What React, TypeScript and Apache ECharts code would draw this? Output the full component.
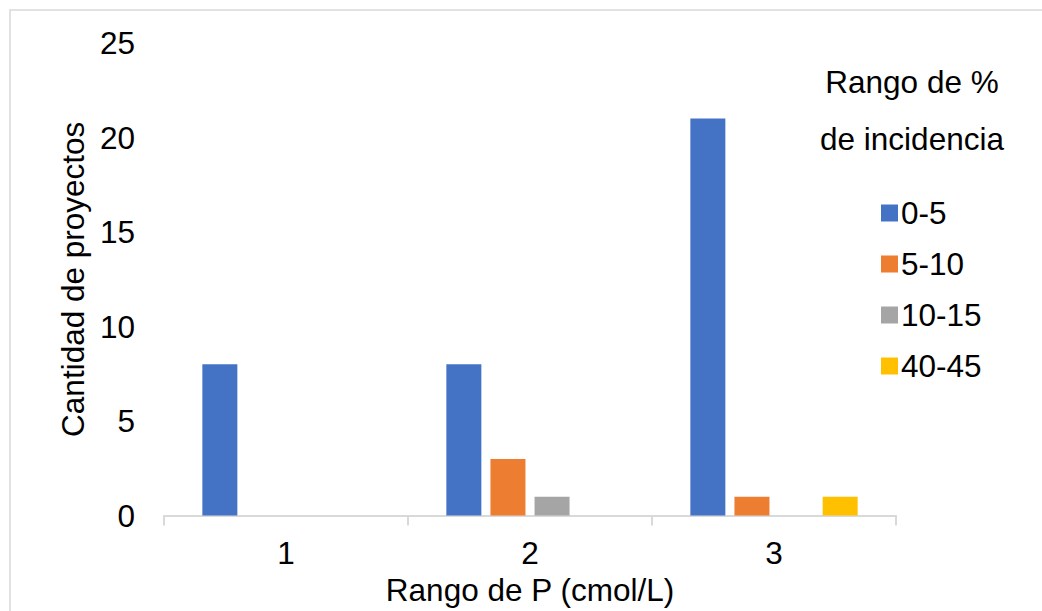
import React, { useEffect, useRef } from "react";
import * as echarts from "echarts";

const categories = ["1", "2", "3"];
const seriesNames = ["0-5", "5-10", "10-15", "40-45"];
const values0to5 = [8, 8, 21];
const values5to10 = [0, 3, 1];
const values10to15 = [0, 1, 0];
const values40to45 = [0, 0, 1];
const colors = ["#4472C4", "#ED7D31", "#A5A5A5", "#FFC000"];
const yTicks = [0, 5, 10, 15, 20, 25];

const FONT = "Liberation Sans, Arial, sans-serif";
const FS = 31.5;

export default function App() {
  const ref = useRef<HTMLDivElement>(null);
  useEffect(() => {
    if (!ref.current) return;
    const chart = echarts.init(ref.current, null, { renderer: "svg" });
    const data = [values0to5, values5to10, values10to15, values40to45];
    chart.setOption({
      animation: false,
      backgroundColor: "#ffffff",
      textStyle: { fontFamily: FONT },
      grid: { left: 164, right: 146, top: 43, bottom: 91.5 },
      legend: {
        orient: "vertical",
        left: 876,
        top: 190.5,
        itemWidth: 17,
        itemHeight: 17,
        itemGap: 16,
        icon: "rect",
        data: seriesNames,
        textStyle: { fontSize: FS, color: "#000", fontFamily: FONT, lineHeight: 35, padding: [0, 0, 0, -2] },
      },
      graphic: [
        {
          type: "rect",
          shape: { x: 10, y: 10, width: 1100, height: 700 },
          style: { fill: "none", stroke: "#d9d9d9", lineWidth: 1.5 },
          silent: true,
        },
        {
          type: "text",
          x: 912,
          y: 81.5,
          style: { text: "Rango de %", fontSize: FS, fontFamily: FONT, fill: "#000", align: "center", verticalAlign: "middle" },
        },
        {
          type: "text",
          x: 912,
          y: 138.5,
          style: { text: "de incidencia", fontSize: FS, fontFamily: FONT, fill: "#000", align: "center", verticalAlign: "middle" },
        },
      ],
      xAxis: {
        type: "category",
        data: categories,
        name: "Rango de P (cmol/L)",
        nameLocation: "middle",
        nameGap: 57.5,
        nameTextStyle: { fontSize: FS, color: "#000", fontFamily: FONT },
        axisLine: { lineStyle: { color: "#d9d9d9", width: 2 } },
        axisTick: { show: true, length: 10, lineStyle: { color: "#d9d9d9", width: 2 } },
        axisLabel: { fontSize: FS, color: "#000", margin: 21.5, fontFamily: FONT },
      },
      yAxis: {
        type: "value",
        min: yTicks[0],
        max: yTicks[yTicks.length - 1],
        interval: 5,
        name: "Cantidad de proyectos",
        nameLocation: "middle",
        nameGap: 68,
        nameTextStyle: { fontSize: FS, color: "#000", fontFamily: FONT },
        axisLine: { show: false },
        axisTick: { show: false },
        splitLine: { show: false },
        axisLabel: { fontSize: FS, color: "#000", margin: 29, fontFamily: FONT },
      },
      series: seriesNames.map((name, i) => ({
        name,
        type: "bar",
        data: data[i],
        barWidth: 35,
        barGap: "26%",
        itemStyle: { color: colors[i] },
      })),
    });
    return () => chart.dispose();
  }, []);
  return <div ref={ref} style={{ position: "absolute", left: 0, top: 0, width: 1042, height: 611 }} />;
}
